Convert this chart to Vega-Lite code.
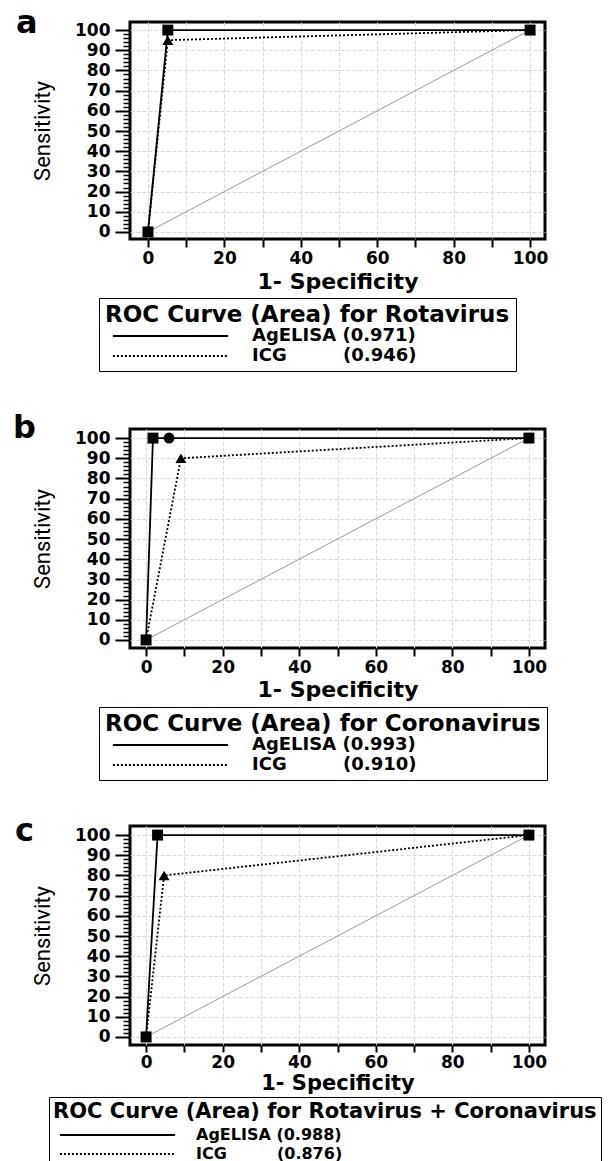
{
  "$schema": "https://vega.github.io/schema/vega-lite/v6.json",
  "padding": {"left": 11, "top": 5, "right": 5, "bottom": 5},
  "background": "white",
  "bounds": "flush",
  "spacing": 190,
  "resolve": {"scale": {"x": "independent", "y": "independent", "strokeDash": "independent", "shape": "independent"}, "legend": {"strokeDash": "independent", "shape": "independent"}},
  "datasets": {
    "roc": [
      {"p": "a", "lab": "AgELISA (0.971)", "x": 0, "y": 0, "m": "sq"},
      {"p": "a", "lab": "AgELISA (0.971)", "x": 5.2, "y": 100, "m": "sq"},
      {"p": "a", "lab": "AgELISA (0.971)", "x": 100, "y": 100, "m": "sq"},
      {"p": "a", "lab": "ICG\u00a0\u00a0\u00a0\u00a0\u00a0\u00a0\u00a0\u00a0\u00a0(0.946)", "x": 0, "y": 0, "m": "tri"},
      {"p": "a", "lab": "ICG\u00a0\u00a0\u00a0\u00a0\u00a0\u00a0\u00a0\u00a0\u00a0(0.946)", "x": 5.2, "y": 95, "m": "tri"},
      {"p": "a", "lab": "ICG\u00a0\u00a0\u00a0\u00a0\u00a0\u00a0\u00a0\u00a0\u00a0(0.946)", "x": 100, "y": 100, "m": "tri"},
      {"p": "b", "lab": "AgELISA (0.993)", "x": 0, "y": 0, "m": "sq"},
      {"p": "b", "lab": "AgELISA (0.993)", "x": 1.8, "y": 100, "m": "sq"},
      {"p": "b", "lab": "AgELISA (0.993)", "x": 6, "y": 100, "m": "dot"},
      {"p": "b", "lab": "AgELISA (0.993)", "x": 100, "y": 100, "m": "sq"},
      {"p": "b", "lab": "ICG\u00a0\u00a0\u00a0\u00a0\u00a0\u00a0\u00a0\u00a0\u00a0(0.910)", "x": 0, "y": 0, "m": "tri"},
      {"p": "b", "lab": "ICG\u00a0\u00a0\u00a0\u00a0\u00a0\u00a0\u00a0\u00a0\u00a0(0.910)", "x": 9.1, "y": 90, "m": "tri"},
      {"p": "b", "lab": "ICG\u00a0\u00a0\u00a0\u00a0\u00a0\u00a0\u00a0\u00a0\u00a0(0.910)", "x": 100, "y": 100, "m": "tri"},
      {"p": "c", "lab": "AgELISA (0.988)", "x": 0, "y": 0, "m": "sq"},
      {"p": "c", "lab": "AgELISA (0.988)", "x": 3, "y": 100, "m": "sq"},
      {"p": "c", "lab": "AgELISA (0.988)", "x": 100, "y": 100, "m": "sq"},
      {"p": "c", "lab": "ICG\u00a0\u00a0\u00a0\u00a0\u00a0\u00a0\u00a0\u00a0\u00a0(0.876)", "x": 0, "y": 0, "m": "tri"},
      {"p": "c", "lab": "ICG\u00a0\u00a0\u00a0\u00a0\u00a0\u00a0\u00a0\u00a0\u00a0(0.876)", "x": 4.7, "y": 80, "m": "tri"},
      {"p": "c", "lab": "ICG\u00a0\u00a0\u00a0\u00a0\u00a0\u00a0\u00a0\u00a0\u00a0(0.876)", "x": 100, "y": 100, "m": "tri"}
    ],
    "ref": [
      {"x": 0, "y": 0},
      {"x": 100, "y": 100}
    ]
  },
  "config": {
    "view": {"stroke": "black", "strokeWidth": 3},
    "axis": {
      "labelFont": "DejaVu Sans", "labelFontWeight": "bold", "labelFontSize": 17, "labelColor": "black",
      "tickColor": "black", "domain": false,
      "gridColor": "#d9d9d9", "gridDash": [4, 2], "gridWidth": 1,
      "titleColor": "black"
    },
    "legend": {
      "orient": "none",
      "strokeColor": "black", "fillColor": "white", "padding": 6, "cornerRadius": 0,
      "titleFont": "DejaVu Sans", "titleFontSize": 23, "titleFontWeight": "bold", "titleColor": "black", "titleLimit": 0, "titlePadding": 0,
      "labelFont": "DejaVu Sans", "labelFontSize": 18, "labelFontWeight": "bold", "labelColor": "black", "labelLimit": 0,
      "symbolType": "M-7.2,0H7.2", "symbolSize": 256, "symbolOffset": 56.5, "labelOffset": 72.5,
      "symbolStrokeWidth": 2, "symbolStrokeColor": "black", "rowPadding": 2
    },
    "title": {"font": "DejaVu Sans", "fontSize": 32, "fontWeight": "bold", "color": "black", "anchor": "start", "frame": "group", "baseline": "alphabetic"}
  },
  "vconcat": [
    {
      "width": 415, "height": 217,
      "title": {"text": "a", "offset": -19, "dx": -114},
      "layer": [
        {
          "data": {"name": "ref"},
          "mark": {"type": "line", "color": "#9a9a9a", "strokeWidth": 1},
          "encoding": {
            "x": {"field": "x", "type": "quantitative", "scale": {"domain": [-4.7, 103.9], "nice": false, "zero": false},
              "axis": {"values": [0,10,20,30,40,50,60,70,80,90,100], "labelExpr": "datum.value % 20 == 0 ? datum.label : ''", "tickSize": 8, "tickWidth": 2, "labelPadding": 3, "grid": true, "title": "1- Specificity", "titleFont": "DejaVu Sans", "titleFontSize": 22, "titleFontWeight": "bold", "titlePadding": 5}},
            "y": {"field": "y", "type": "quantitative", "scale": {"domain": [-3.5, 104], "nice": false, "zero": false},
              "axis": {"orient": "left", "values": [0,10,20,30,40,50,60,70,80,90,100], "tickSize": 15, "tickWidth": 2, "labelPadding": 5, "grid": true, "title": "Sensitivity", "titleFont": "Roboto", "titleFontSize": 22, "titleFontWeight": "normal", "titlePadding": 20}}
          }
        },
        {
          "data": {"name": "roc"},
          "transform": [{"filter": "datum.p == 'a'"}],
          "mark": {"type": "line", "color": "black", "strokeWidth": 1.8},
          "encoding": {
            "x": {"field": "x", "type": "quantitative"},
            "y": {"field": "y", "type": "quantitative", "axis": {"orient": "left", "values": [2,4,6,8,12,14,16,18,22,24,26,28,32,34,36,38,42,44,46,48,52,54,56,58,62,64,66,68,72,74,76,78,82,84,86,88,92,94,96,98], "tickSize": 7, "tickWidth": 1.5, "labels": false, "grid": false, "title": null}},
            "strokeDash": {"field": "lab", "type": "nominal", "scale": {"domain": ["AgELISA (0.971)", "ICG\u00a0\u00a0\u00a0\u00a0\u00a0\u00a0\u00a0\u00a0\u00a0(0.946)"], "range": [[1, 0], [2, 2]]},
              "legend": {"title": "ROC Curve (Area) for Rotavirus", "legendX": -31, "legendY": 276}}
          }
        },
        {
          "data": {"name": "roc"},
          "transform": [{"filter": "datum.p == 'a'"}],
          "mark": {"type": "point", "filled": true, "color": "black", "opacity": 1, "size": 120},
          "encoding": {
            "x": {"field": "x", "type": "quantitative"},
            "y": {"field": "y", "type": "quantitative", "axis": null},
            "shape": {"field": "m", "type": "nominal", "scale": {"domain": ["sq", "tri", "dot"], "range": ["square", "triangle-up", "circle"]}, "legend": null}
          }
        }
      ],
      "resolve": {"axis": {"y": "independent"}}
    },
    {
      "bounds": "flush",
      "spacing": 178,
      "resolve": {"scale": {"x": "independent", "y": "independent", "strokeDash": "independent", "shape": "independent"}, "legend": {"strokeDash": "independent", "shape": "independent"}},
      "vconcat": [
        {
          "width": 415, "height": 219,
          "title": {"text": "b", "offset": -16, "dx": -117},
          "layer": [
            {
              "data": {"name": "ref"},
              "mark": {"type": "line", "color": "#9a9a9a", "strokeWidth": 1},
              "encoding": {
                "x": {"field": "x", "type": "quantitative", "scale": {"domain": [-4.2, 104.2], "nice": false, "zero": false},
                  "axis": {"values": [0,10,20,30,40,50,60,70,80,90,100], "labelExpr": "datum.value % 20 == 0 ? datum.label : ''", "tickSize": 8, "tickWidth": 2, "labelPadding": 3, "grid": true, "title": "1- Specificity", "titleFont": "DejaVu Sans", "titleFontSize": 22, "titleFontWeight": "bold", "titlePadding": 4}},
                "y": {"field": "y", "type": "quantitative", "scale": {"domain": [-4, 104.5], "nice": false, "zero": false},
                  "axis": {"orient": "left", "values": [0,10,20,30,40,50,60,70,80,90,100], "tickSize": 15, "tickWidth": 2, "labelPadding": 5, "grid": true, "title": "Sensitivity", "titleFont": "Roboto", "titleFontSize": 22, "titleFontWeight": "normal", "titlePadding": 20}}
              }
            },
            {
              "data": {"name": "roc"},
              "transform": [{"filter": "datum.p == 'b'"}],
              "mark": {"type": "line", "color": "black", "strokeWidth": 1.8},
              "encoding": {
                "x": {"field": "x", "type": "quantitative"},
                "y": {"field": "y", "type": "quantitative", "axis": {"orient": "left", "values": [2,4,6,8,12,14,16,18,22,24,26,28,32,34,36,38,42,44,46,48,52,54,56,58,62,64,66,68,72,74,76,78,82,84,86,88,92,94,96,98], "tickSize": 7, "tickWidth": 1.5, "labels": false, "grid": false, "title": null}},
                "strokeDash": {"field": "lab", "type": "nominal", "scale": {"domain": ["AgELISA (0.993)", "ICG\u00a0\u00a0\u00a0\u00a0\u00a0\u00a0\u00a0\u00a0\u00a0(0.910)"], "range": [[1, 0], [2, 2]]},
                  "legend": {"title": "ROC Curve (Area) for Coronavirus", "legendX": -31, "legendY": 278}}
              }
            },
            {
              "data": {"name": "roc"},
              "transform": [{"filter": "datum.p == 'b'"}],
              "mark": {"type": "point", "filled": true, "color": "black", "opacity": 1, "size": 120},
              "encoding": {
                "x": {"field": "x", "type": "quantitative"},
                "y": {"field": "y", "type": "quantitative", "axis": null},
                "shape": {"field": "m", "type": "nominal", "scale": {"domain": ["sq", "tri", "dot"], "range": ["square", "triangle-up", "circle"]}, "legend": null}
              }
            }
          ],
          "resolve": {"axis": {"y": "independent"}}
        },
        {
          "width": 415, "height": 219,
          "title": {"text": "c", "offset": -22, "dx": -115},
          "layer": [
            {
              "data": {"name": "ref"},
              "mark": {"type": "line", "color": "#9a9a9a", "strokeWidth": 1},
              "encoding": {
                "x": {"field": "x", "type": "quantitative", "scale": {"domain": [-4.2, 104.2], "nice": false, "zero": false},
                  "axis": {"values": [0,10,20,30,40,50,60,70,80,90,100], "labelExpr": "datum.value % 20 == 0 ? datum.label : ''", "tickSize": 7, "tickWidth": 2, "labelPadding": 2, "grid": true, "title": "1- Specificity", "titleFont": "DejaVu Sans", "titleFontSize": 21, "titleFontWeight": "bold", "titlePadding": 2}},
                "y": {"field": "y", "type": "quantitative", "scale": {"domain": [-4, 104.5], "nice": false, "zero": false},
                  "axis": {"orient": "left", "values": [0,10,20,30,40,50,60,70,80,90,100], "tickSize": 15, "tickWidth": 2, "labelPadding": 5, "grid": true, "title": "Sensitivity", "titleFont": "Roboto", "titleFontSize": 22, "titleFontWeight": "normal", "titlePadding": 20}}
              }
            },
            {
              "data": {"name": "roc"},
              "transform": [{"filter": "datum.p == 'c'"}],
              "mark": {"type": "line", "color": "black", "strokeWidth": 1.8},
              "encoding": {
                "x": {"field": "x", "type": "quantitative"},
                "y": {"field": "y", "type": "quantitative", "axis": {"orient": "left", "values": [2,4,6,8,12,14,16,18,22,24,26,28,32,34,36,38,42,44,46,48,52,54,56,58,62,64,66,68,72,74,76,78,82,84,86,88,92,94,96,98], "tickSize": 7, "tickWidth": 1.5, "labels": false, "grid": false, "title": null}},
                "strokeDash": {"field": "lab", "type": "nominal", "scale": {"domain": ["AgELISA (0.988)", "ICG\u00a0\u00a0\u00a0\u00a0\u00a0\u00a0\u00a0\u00a0\u00a0(0.876)"], "range": [[1, 0], [2, 2]]},
                  "legend": {"title": "ROC Curve (Area) for Rotavirus + Coronavirus", "titleFontSize": 21, "titlePadding": 4, "labelFontSize": 16, "legendX": -81, "legendY": 271, "padding": 4, "symbolOffset": 55.5, "labelOffset": 69.5}}
              }
            },
            {
              "data": {"name": "roc"},
              "transform": [{"filter": "datum.p == 'c'"}],
              "mark": {"type": "point", "filled": true, "color": "black", "opacity": 1, "size": 120},
              "encoding": {
                "x": {"field": "x", "type": "quantitative"},
                "y": {"field": "y", "type": "quantitative", "axis": null},
                "shape": {"field": "m", "type": "nominal", "scale": {"domain": ["sq", "tri", "dot"], "range": ["square", "triangle-up", "circle"]}, "legend": null}
              }
            }
          ],
          "resolve": {"axis": {"y": "independent"}}
        }
      ]
    }
  ]
}
